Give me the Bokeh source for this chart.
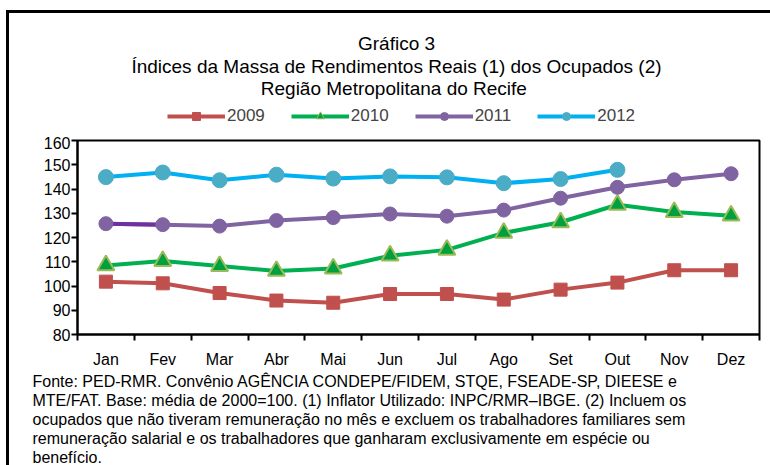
from bokeh.plotting import figure
from bokeh.layouts import column
from bokeh.models import FixedTicker, Label, Legend, LegendItem, Range1d, Title
from bokeh.embed import file_html
from bokeh.resources import INLINE

months = ["Jan", "Fev", "Mar", "Abr", "Mai", "Jun", "Jul", "Ago", "Set", "Out", "Nov", "Dez"]
v2009 = [101.8, 101.1, 97.1, 94.0, 93.1, 96.7, 96.7, 94.4, 98.5, 101.4, 106.5, 106.5]
v2010 = [108.5, 110.3, 108.2, 106.2, 107.2, 112.5, 114.9, 121.9, 126.3, 133.5, 130.5, 129.0]
v2011 = [125.7, 125.3, 124.7, 127.0, 128.2, 129.7, 128.8, 131.3, 136.2, 140.7, 143.8, 146.3]
v2012 = [144.9, 146.8, 143.6, 145.9, 144.3, 145.2, 144.8, 142.4, 144.1, 147.9]
years = ["2009", "2010", "2011", "2012"]
y_ticks = [80, 90, 100, 110, 120, 130, 140, 150, 160]

title_lines = [
    "Gráfico 3",
    "Índices da Massa de Rendimentos Reais (1) dos Ocupados (2)",
    "Região Metropolitana  do Recife",
]
note_lines = [
    "Fonte: PED-RMR. Convênio AGÊNCIA CONDEPE/FIDEM, STQE, FSEADE-SP, DIEESE e",
    "MTE/FAT. Base: média de 2000=100. (1) Inflator Utilizado: INPC/RMR\u2013IBGE. (2) Incluem os",
    "ocupados que não tiveram remuneração no mês e excluem os trabalhadores familiares sem",
    "remuneração salarial e os trabalhadores que ganharam exclusivamente em espécie ou",
    "benefício.",
]

FONT = "Liberation Sans"
W = 770
FL, FR = 77, 759          # frame left / right in picture pixels
H_HEAD, H_MAIN, H_FOOT = 136, 234, 95

colors = {
    "2009": ("#C0504D", "#C0504D", "#C0504D"),
    "2010": ("#00B050", "#00A040", "#9BBB59"),
    "2011": ("#8064A2", "#8064A2", "#8064A2"),
    "2012": ("#00B0F0", "#4BACC6", "#4BACC6"),
}
markers = {"2009": "square", "2010": "triangle", "2011": "circle", "2012": "circle"}


def blank(height, **kw):
    f = figure(width=W, height=height, x_range=Range1d(FL, FR), y_range=Range1d(0, height),
               output_backend="svg", toolbar_location=None,
               min_border_left=FL, min_border_right=W - FR, **kw)
    f.axis.visible = False
    f.grid.visible = False
    f.outline_line_color = None
    f.background_fill_alpha = 0
    f.border_fill_alpha = 0
    return f


# ---------- header: title + legend ----------
head = blank(H_HEAD, min_border_top=0, min_border_bottom=0)
for i, t in enumerate(title_lines):
    head.add_layout(Label(x=396, y=H_HEAD - (43 + i * 22.5), text=t, text_align="center",
                          text_baseline="middle", text_font=FONT, text_font_size="19px",
                          text_color="black"))

nan = float("nan")
items = []
for yr in years:
    lc, fc, oc = colors[yr]
    lr = head.line([nan], [nan], line_color=lc, line_width=4)
    mr = head.scatter([nan], [nan], marker=markers[yr], size=9, fill_color=fc, line_color=oc)
    items.append(LegendItem(label=yr, renderers=[lr, mr]))
legend = Legend(items=items, orientation="horizontal", location=(167 - FL, 10), glyph_width=58,
                glyph_height=20, label_text_font=FONT, label_text_font_size="17px",
                label_standoff=2, spacing=26, padding=0, margin=0,
                border_line_color=None, background_fill_alpha=0)
head.add_layout(legend, "center")

# ---------- main chart ----------
x = list(range(1, 13))
p = figure(width=W, height=H_MAIN, x_range=Range1d(0.5, 12.5), y_range=Range1d(80, 160),
           output_backend="svg", toolbar_location=None,
           min_border_left=FL, min_border_right=W - FR, min_border_top=4, min_border_bottom=32)
p.xgrid.visible = False
p.ygrid.visible = False
p.outline_line_color = "black"
p.outline_line_width = 2
p.border_fill_alpha = 0

p.xaxis.ticker = FixedTicker(ticks=x, minor_ticks=[i + 0.5 for i in range(0, 13)])
p.xaxis.major_label_overrides = {i + 1: m for i, m in enumerate(months)}
p.xaxis.major_tick_out = 0
p.xaxis.major_tick_in = 0
p.xaxis.minor_tick_out = 6
p.xaxis.minor_tick_in = 0
p.xaxis.minor_tick_line_color = "black"
p.xaxis.minor_tick_line_width = 2
p.yaxis.ticker = FixedTicker(ticks=y_ticks, minor_ticks=[])
p.yaxis.major_tick_out = 6
p.yaxis.major_tick_in = 0
p.yaxis.minor_tick_line_color = None
for ax in (p.xaxis[0], p.yaxis[0]):
    ax.axis_line_color = "black"
    ax.axis_line_width = 2
    ax.major_tick_line_color = "black"
    ax.major_tick_line_width = 2
    ax.major_label_text_font = FONT
    ax.major_label_text_font_size = "16px"
    ax.major_label_text_color = "black"
p.xaxis.major_label_standoff = 10
p.yaxis.major_label_standoff = 1

series = {"2009": v2009, "2010": v2010, "2011": v2011, "2012": v2012}
sizes = {"2009": 13, "2010": 17, "2011": 14, "2012": 15}
for yr in years:
    vals = series[yr]
    xs = x[:len(vals)]
    lc, fc, oc = colors[yr]
    p.line(xs, vals, line_color=lc, line_width=4)
    if yr == "2011":
        p.line(xs[:2], vals[:2], line_color="#7030A0", line_width=4)
    p.scatter(xs, vals, marker=markers[yr], size=sizes[yr], fill_color=fc, line_color=oc,
              line_width=2 if yr == "2010" else 1)

# ---------- footer: notes as stacked titles (not clipped by the frame) ----------
foot = blank(H_FOOT, min_border_top=90, min_border_bottom=0)
for t in reversed(note_lines):
    foot.add_layout(Title(text=t, align="left", offset=32 - FL, standoff=0,
                          text_font=FONT, text_font_size="16px", text_font_style="normal",
                          text_color="black", text_line_height=1.0), "above")

layout = column(head, p, foot, spacing=0, styles={
    "background-color": "white",
    "background-image": "linear-gradient(black, black), linear-gradient(black, black)",
    "background-size": "3px 100%, 100% 3px",
    "background-position": "6px 10px, 6px 10px",
    "background-repeat": "no-repeat",
})

open("out.html", "w").write(file_html(layout, INLINE))
